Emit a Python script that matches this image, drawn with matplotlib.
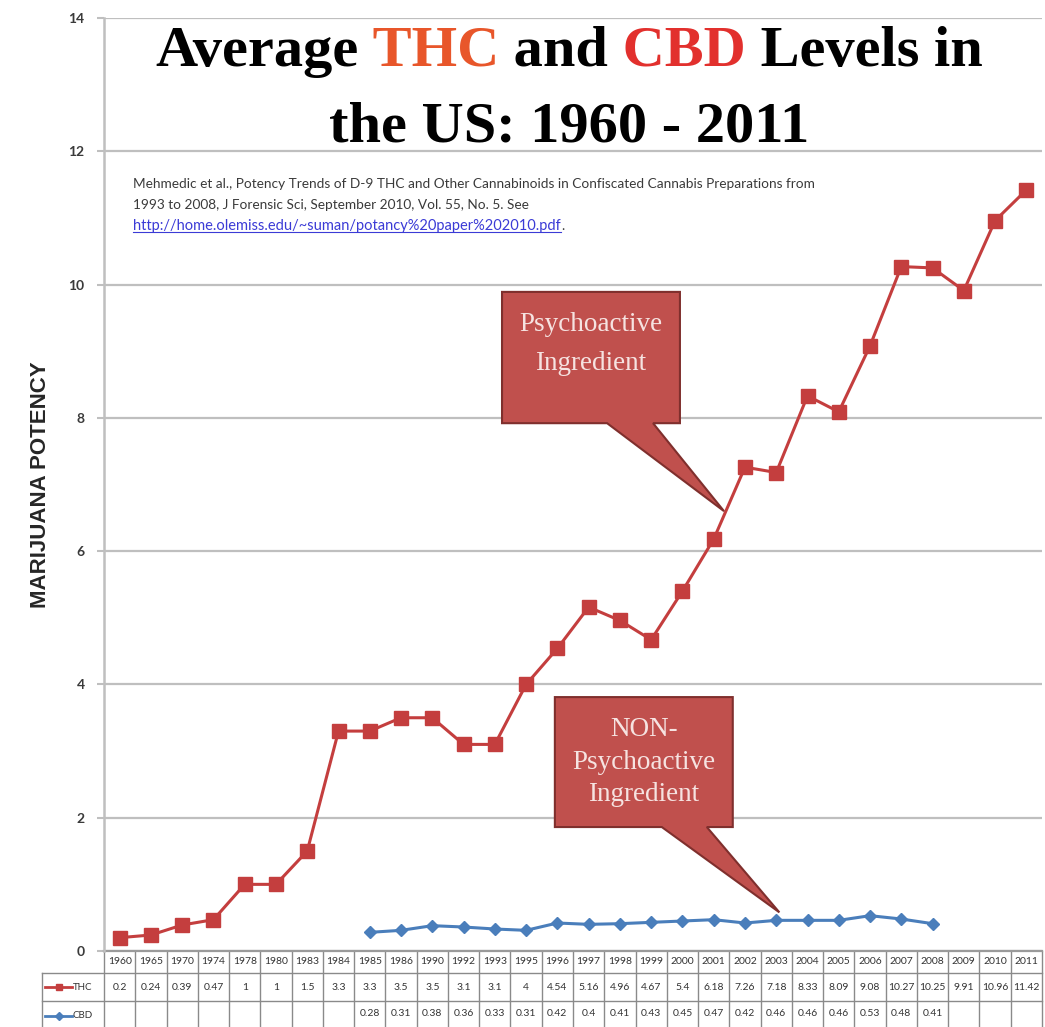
import numpy as np
import matplotlib
matplotlib.use("Agg")
import matplotlib.pyplot as plt
from matplotlib.patches import Polygon
from matplotlib.transforms import blended_transform_factory
from matplotlib.lines import Line2D

# data
years = ["1960", "1965", "1970", "1974", "1978", "1980", "1983", "1984", "1985", "1986",
         "1990", "1992", "1993", "1995", "1996", "1997", "1998", "1999", "2000", "2001",
         "2002", "2003", "2004", "2005", "2006", "2007", "2008", "2009", "2010", "2011"]
thc = [0.2, 0.24, 0.39, 0.47, 1, 1, 1.5, 3.3, 3.3, 3.5,
       3.5, 3.1, 3.1, 4, 4.54, 5.16, 4.96, 4.67, 5.4, 6.18,
       7.26, 7.18, 8.33, 8.09, 9.08, 10.27, 10.25, 9.91, 10.96, 11.42]
cbd = [None] * 8 + [0.28, 0.31, 0.38, 0.36, 0.33, 0.31, 0.42, 0.4, 0.41, 0.43,
                    0.45, 0.47, 0.42, 0.46, 0.46, 0.46, 0.53, 0.48, 0.41] + [None] * 3
yticks = [0, 2, 4, 6, 8, 10, 12, 14]

citation = ["Mehmedic et al., Potency Trends of D-9 THC and Other Cannabinoids in Confiscated Cannabis Preparations from",
            "1993 to 2008, J Forensic Sci, September 2010, Vol. 55, No. 5. See"]
url = "http://home.olemiss.edu/~suman/potancy%20paper%202010.pdf"

THC_COL = "#C43E3E"
CBD_COL = "#4A7EBB"
GRID = "#BFBFBF"
BOX_FILL = "#C0504D"
BOX_EDGE = "#7F2F2D"
TXT_BOX = "#F6E3E1"

W, H = 1045, 1027
fig = plt.figure(figsize=(W / 100, H / 100), dpi=100)
ax = fig.add_axes([104 / W, 1 - 951 / H, (1042 - 104) / W, (951 - 18) / H])

x = np.arange(len(years))
cbd_arr = np.array([np.nan if v is None else v for v in cbd])

ax.plot(x, thc, color=THC_COL, lw=2.2, marker="s", ms=9.5, zorder=3, clip_on=False)
ax.plot(x, cbd_arr, color=CBD_COL, lw=2.2, marker="D", ms=6.5, zorder=3, clip_on=False)

ax.set_xlim(-0.5, len(years) - 0.5)
ax.set_ylim(0, 14)
ax.set_yticks(yticks)
ax.set_yticklabels([str(t) for t in yticks], fontsize=10, fontweight="bold",
                   color="#3A3A3A", family="Lato")
ax.tick_params(axis="y", length=5, width=1.5, color=GRID, pad=9)
ax.set_xticks([])
ax.yaxis.grid(True, color=GRID, lw=1.6)
ax.set_axisbelow(True)
for s in ["top", "right", "bottom"]:
    ax.spines[s].set_visible(False)
ax.spines["left"].set_color(GRID)
ax.spines["left"].set_linewidth(1.8)
ax.set_ylabel("MARIJUANA POTENCY", fontsize=16, fontweight="bold", color="#262626",
              family="Liberation Sans")
ax.yaxis.set_label_coords((51 - 104) / (1042 - 104), 0.5)

# data table under the axis
tr = blended_transform_factory(ax.transData, ax.transAxes)
ah = 951 - 18
y_hdr, y_r1, y_r2, y_bot = 0, -22 / ah, -50 / ah, -80 / ah
lcol = dict(color="#8A8A8A", lw=1, clip_on=False)
for i in range(len(years) + 1):
    ax.plot([i - 0.5, i - 0.5], [y_hdr, y_bot], transform=tr, **lcol)
left_ax = (42 - 104) / (1042 - 104)
ax.plot([left_ax, 1], [y_r1, y_r1], transform=ax.transAxes, **lcol)
ax.plot([left_ax, 1], [y_r2, y_r2], transform=ax.transAxes, **lcol)
ax.plot([left_ax, left_ax], [y_r1, y_bot], transform=ax.transAxes, **lcol)
ax.plot([-0.5, len(years) - 0.5], [0, 0], transform=tr, color="#9A9A9A", lw=1.6, clip_on=False)

tkw = dict(transform=tr, ha="center", va="center", fontsize=7.5, color="#333333",
           family="Lato", clip_on=False)
for i, yr in enumerate(years):
    ax.text(i, (y_hdr + y_r1) / 2, yr, **tkw)
    ax.text(i, (y_r1 + y_r2) / 2, f"{thc[i]:g}", **tkw)
    if cbd[i] is not None:
        ax.text(i, (y_r2 + y_bot) / 2 + 0.003, f"{cbd[i]:g}", **tkw)

# legend keys in the row label cells
for (lab, col, mk, ms), yy in zip([("THC", THC_COL, "s", 5), ("CBD", CBD_COL, "D", 4)],
                                   [(y_r1 + y_r2) / 2, (y_r2 + y_bot) / 2]):
    x0 = (45 - 104) / (1042 - 104)
    x1 = (72 - 104) / (1042 - 104)
    ax.add_line(Line2D([x0, x1], [yy, yy], transform=ax.transAxes, color=col, lw=2,
                       clip_on=False))
    ax.add_line(Line2D([(x0 + x1) / 2], [yy], transform=ax.transAxes, color=col,
                       marker=mk, ms=ms, clip_on=False))
    ax.text(x1 + 0.001, yy, lab, transform=ax.transAxes, ha="left", va="center",
            fontsize=7, color="#333333", family="Lato", clip_on=False)

# citation
ckw = dict(fontsize=9.8, family="Lato", color="#3A3A3A", va="center", ha="left")
fig.text(133 / W, 1 - 184 / H, citation[0], **ckw)
fig.text(133 / W, 1 - 205 / H, citation[1], **ckw)
url_txt = fig.text(133 / W, 1 - 226 / H, url, fontsize=10.5, family="Lato",
                   color="#3B3BD6", va="center", ha="left")
dot = fig.text(0, 1 - 226 / H, ".", **ckw)

# callouts
callouts = [
    dict(text="Psychoactive\nIngredient", box=(12.23, 17.92, 7.92, 9.89),
         base=(15.59, 17.06), tip=(19.33, 6.6), ls=1.75),
    dict(text="NON-\nPsychoactive\nIngredient", box=(13.92, 19.61, 1.86, 3.81),
         base=(17.34, 18.78), tip=(21.1, 0.58), ls=1.4),
]
for c in callouts:
    bx0, bx1, by0, by1 = c["box"]
    px0, px1 = c["base"]
    verts = [(bx0, by1), (bx1, by1), (bx1, by0), (px1, by0), c["tip"], (px0, by0), (bx0, by0)]
    ax.add_patch(Polygon(verts, closed=True, facecolor=BOX_FILL, edgecolor=BOX_EDGE,
                         lw=1.5, zorder=5, joinstyle="miter"))
    ax.text((bx0 + bx1) / 2, by1 - 0.30, c["text"], ha="center", va="top",
            fontsize=19.5, family="Liberation Serif", color=TXT_BOX,
            linespacing=c["ls"], zorder=6)

# title with coloured words
title_lines = [
    [("Average", "black"), (" THC", "#E8562A"), (" and", "black"), (" CBD", "#E2302D"),
     (" Levels in", "black")],
    [("the US: 1960 - 2011", "black")],
]
title_base = [66, 141]

fig.canvas.draw()
renderer = fig.canvas.get_renderer()

for parts, yb in zip(title_lines, title_base):
    texts = [fig.text(0, 1 - yb / H, s, color=c, fontsize=42, fontweight="bold",
                      family="Liberation Serif", va="baseline", ha="left")
             for s, c in parts]
    widths = [t.get_window_extent(renderer).width for t in texts]
    xx = 569 - sum(widths) / 2
    for t, w in zip(texts, widths):
        t.set_x(xx / W)
        xx += w

# underline the url and place the trailing dot
bb = url_txt.get_window_extent(renderer)
fig.add_artist(Line2D([bb.x0 / W, bb.x1 / W], [(bb.y0 + 1) / H, (bb.y0 + 1) / H],
                      color="#3B3BD6", lw=0.8))
dot.set_x((bb.x1 + 1) / W)

fig.savefig("out.png", dpi=100)
